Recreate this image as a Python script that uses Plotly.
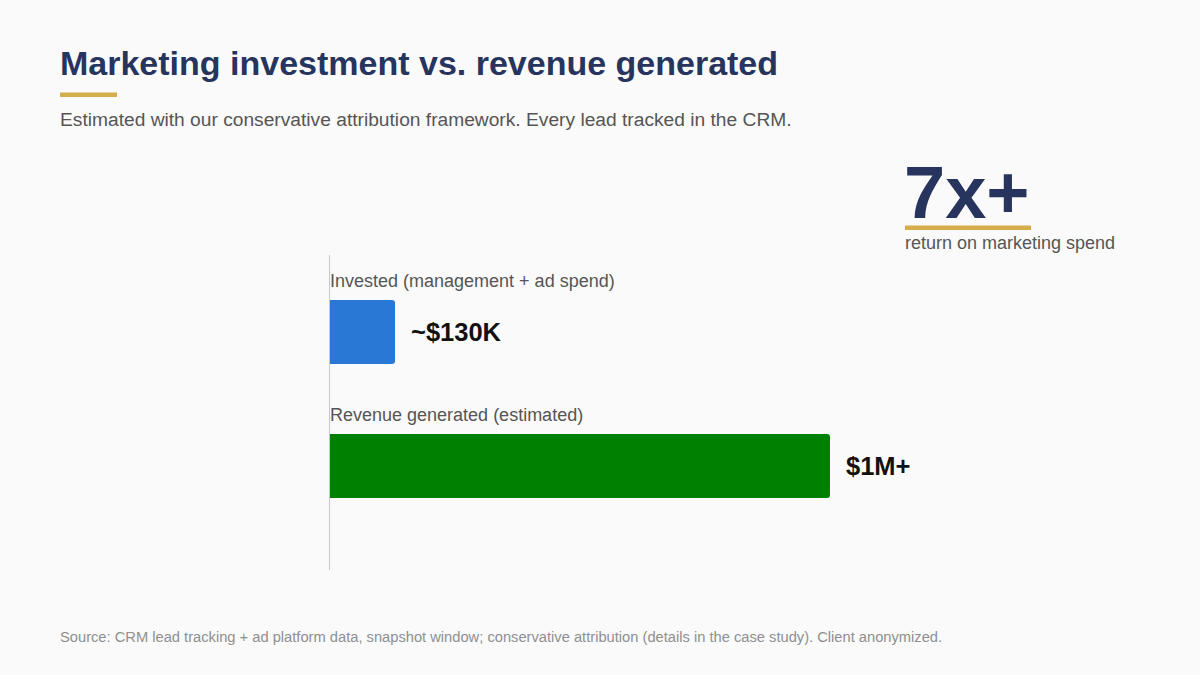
import plotly.graph_objects as go

categories = ["Revenue generated (estimated)", "Invested (management + ad spend)"]
values = [1_000_000, 130_000]
value_labels = ["$1M+", "~$130K"]
bar_colors = ["#008000", "#2a78d6"]

title = "Marketing investment vs. revenue generated"
subtitle = "Estimated with our conservative attribution framework. Every lead tracked in the CRM."
kpi = "7x+"
kpi_caption = "return on marketing spend"
source = ("Source: CRM lead tracking + ad platform data, snapshot window; conservative attribution "
          "(details in the case study). Client anonymized.")

NAVY = "#27345e"
GOLD = "#d4ae4a"
FONT = "Liberation Sans, Arial, sans-serif"

fig = go.Figure(go.Bar(
    x=values, y=categories, orientation="h",
    marker=dict(color=bar_colors, cornerradius=3, line=dict(width=0)),
    width=0.478, hoverinfo="skip",
))

ann = []
for c, v, lab in zip(categories, values, value_labels):
    ann.append(dict(x=v, y=c, xref="x", yref="y", text=f"<b>{lab}</b>", showarrow=False,
                    xanchor="left", yanchor="middle", xshift=14,
                    font=dict(size=25.5, color="#111111", family=FONT)))
    ann.append(dict(x=0, y=c, xref="x", yref="y", text=c, showarrow=False,
                    xanchor="left", yanchor="middle", yshift=51, xshift=-2,
                    font=dict(size=18, color="#555555", family=FONT)))

ann += [
    dict(x=58, y=63, xref="paper", yref="paper", text=f"<b>{title}</b>", showarrow=False,
         xanchor="left", yanchor="middle", font=dict(size=34, color=NAVY, family=FONT)),
    dict(x=58, y=119, xref="paper", yref="paper", text=subtitle, showarrow=False,
         xanchor="left", yanchor="middle", font=dict(size=19.2, color="#555555", family=FONT)),
    dict(x=902, y=192, xref="paper", yref="paper", text=f"<b>{kpi}</b>", showarrow=False,
         xanchor="left", yanchor="middle", font=dict(size=74, color=NAVY, family=FONT)),
    dict(x=903, y=243, xref="paper", yref="paper", text=kpi_caption, showarrow=False,
         xanchor="left", yanchor="middle", font=dict(size=18, color="#555555", family=FONT)),
    dict(x=58, y=637, xref="paper", yref="paper", text=source, showarrow=False,
         xanchor="left", yanchor="middle", font=dict(size=14.7, color="#8f8f8f", family=FONT)),
]

W, H = 1200, 675
L, R, T, B = 330, 70, 255, 105
pw, ph = W - L - R, H - T - B
for a in ann:
    if a["xref"] == "paper":
        a["x"] = (a["x"] - L) / pw
        a["y"] = 1 - (a["y"] - T) / ph

def px_shape(x0, y0, x1, y1, color):
    return dict(type="rect", xref="paper", yref="paper",
                x0=(x0 - L) / pw, x1=(x1 - L) / pw,
                y0=1 - (y0 - T) / ph, y1=1 - (y1 - T) / ph,
                fillcolor=color, line=dict(width=0), layer="above")

shapes = [
    px_shape(60, 92.5, 117, 97, GOLD),
    px_shape(905, 225.5, 1031, 230, GOLD),
]

fig.update_layout(
    width=W, height=H,
    margin=dict(l=L, r=R, t=T, b=B, pad=0),
    paper_bgcolor="#fafafa", plot_bgcolor="#fafafa",
    showlegend=False,
    annotations=ann, shapes=shapes,
    xaxis=dict(range=[0, 1_600_000], visible=False, fixedrange=True),
    yaxis=dict(categoryorder="array", categoryarray=categories, range=[-0.776, 1.575],
               showticklabels=False, showgrid=False, zeroline=False,
               showline=True, linecolor="#c8c8c8", linewidth=1, ticks="", fixedrange=True),
    font=dict(family=FONT),
)

fig.write_html("out.html", config={"displayModeBar": False})
